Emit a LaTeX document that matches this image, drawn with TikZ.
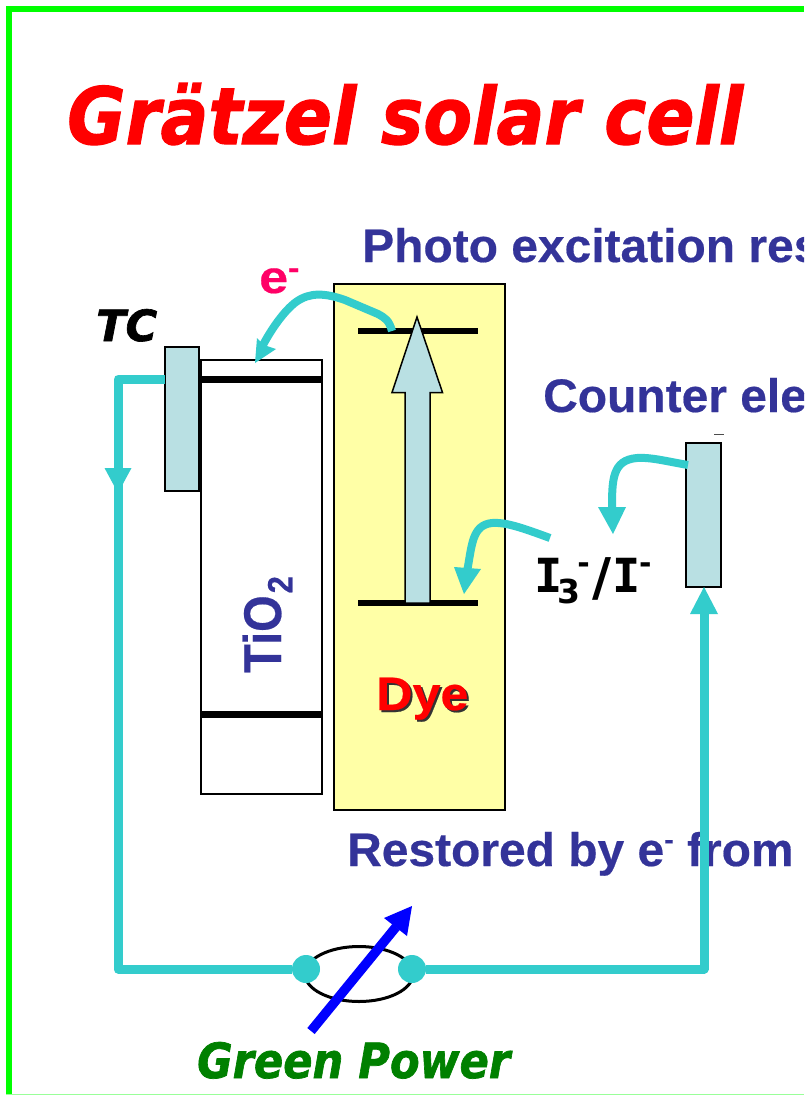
\documentclass[tikz,border=0pt]{standalone}
\usepackage{fontspec}
\setmainfont{DejaVu Sans}
\newfontfamily\heavyf{DejaVu Sans}[BoldItalicFeatures={FakeBold=1.5}]
\newfontfamily\arialf{Liberation Sans}[BoldFeatures={FakeBold=0.4}]
\newfontfamily\monof{DejaVu Sans Mono}
\definecolor{wire}{HTML}{33CCCC}
\definecolor{pale}{HTML}{B9E0E3}
\definecolor{dyey}{HTML}{FFFFA6}
\definecolor{navy}{HTML}{333399}
\definecolor{pinkish}{HTML}{FF0066}
\definecolor{framegreen}{HTML}{00FF00}
\definecolor{powergreen}{HTML}{008000}
\newcommand{\fsz}[1]{\fontsize{#1}{#1}\selectfont}
\newcommand{\wider}[1]{\scalebox{1.02}[1]{#1}}
\tikzset{
  x=1pt,y=-1pt,
  box/.style={draw=black,line width=2pt,inner sep=0pt,outer sep=0pt,anchor=north west},
  level/.style={line width=6.5pt,black},
  wireline/.style={line width=9pt,wire,line join=round},
  curve/.style={line width=8pt,wire},
  tiphead/.style={fill=wire,draw=none},
  blue label/.style={inner sep=0pt,anchor=base west,text=navy,font=\arialf\bfseries\fsz{47}},
  oblabel/.style={inner sep=0pt,anchor=base west,font=\heavyf\bfseries\itshape},
  dot/.style={circle,fill=wire,minimum size=28pt,inner sep=0pt,draw=none}
}
\begin{document}
\begin{tikzpicture}
\useasboundingbox (0,0) rectangle (804,1095);
\clip (0,0) rectangle (804,1095);
\fill[white] (0,0) rectangle (804,1095);
% frame
\fill[framegreen] (6,6) rectangle (804,12);
\fill[framegreen] (6,6) rectangle (12,1095);
\fill[framegreen!40] (6,1094) rectangle (804,1095);
% title
\node[oblabel,text=red] (title) at (67,144) {\resizebox{676pt}{61pt}{\fsz{84}Grätzel solar cell}};
% boxes
\node[box,fill=dyey,minimum width=171pt,minimum height=526pt] (dye) at (334,284) {};
\node[box,fill=white,minimum width=121pt,minimum height=434pt] (tio) at (201,360) {};
\node[box,fill=pale,minimum width=34pt,minimum height=144pt] (tc) at (165,347) {};
\node[box,fill=pale,minimum width=35pt,minimum height=144pt] (ce) at (686,443) {};
% levels
\coordinate (dtl) at (358,331); \coordinate (dtr) at (478,331);
\coordinate (dbl) at (358,603); \coordinate (dbr) at (478,603);
\coordinate (ttl) at (201,379.5); \coordinate (ttr) at (322,379.5);
\coordinate (tbl) at (201,714.5); \coordinate (tbr) at (322,714.5);
\draw[level] (dtl) -- (dtr);
\draw[level] (dbl) -- (dbr);
\draw[level] (ttl) -- (ttr);
\draw[level] (tbl) -- (tbr);
% excitation arrow
\draw[black,line width=1.5pt,fill=pale,line join=miter]
  (405,603) -- (405,392.5) -- (392,392.5) -- (417,317) -- (442.5,392.5) -- (430,392.5) -- (430,603) -- cycle;
% labels
\node[blue label] (photo) at (362,262) {\wider{Photo excitation res}};
\node[blue label] (counter) at (543,412) {\wider{Counter ele}};
\node[blue label] (restored) at (347,866) {\wider{Restored by e\raisebox{17pt}{\fsz{28}-} from e}};
\node[oblabel,text=black,font=\heavyf\bfseries\itshape\fsz{46}] (tclabel) at (96,341) {\resizebox{61pt}{!}{TC}};
\node[inner sep=0pt,anchor=base west,text=pinkish,font=\arialf\bfseries\fsz{46}] (elabel) at (259,293) {\scalebox{1.13}[1]{e\raisebox{15pt}{\fsz{30}-}}};
\node[inner sep=0pt,anchor=base west,rotate=90,text=navy,font=\arialf\bfseries\fsz{47}] (tilabel) at (281,673) {\scalebox{1}[1.13]{TiO\hspace{2pt}\raisebox{-10pt}{\fsz{31}2}}};
\node[inner sep=0pt,anchor=base west,text=black!80,font=\arialf\bfseries\fsz{47}] (dyeshadow) at (378,712) {\scalebox{1.07}[1]{Dye}};
\node[inner sep=0pt,anchor=base west,text=red,font=\arialf\bfseries\fsz{47}] (dyelabel) at (376,710) {\scalebox{1.07}[1]{Dye}};
\node[oblabel,text=powergreen] (gp) at (197,1078) {\resizebox{313pt}{36pt}{\fsz{47}Green Power}};
\node[inner sep=0pt,anchor=base west,font=\bfseries\fsz{47}] (redox) at (534,592)
 {\monof\bfseries I\hspace{-5pt}\raisebox{-11pt}{\fsz{33}\rmfamily\bfseries 3}\hspace{-3pt}\raisebox{19pt}{\fsz{30}\rmfamily\bfseries -}\hspace{3pt}\raisebox{-3pt}{\fsz{52}\rmfamily\bfseries /}\hspace{1pt}I\hspace{-2pt}\raisebox{19pt}{\fsz{30}\rmfamily\bfseries -}};
% meter
\coordinate (mc) at (359,974);
\draw[black,line width=3pt] (mc) ellipse [x radius=54,y radius=27.5];
% wires
\coordinate (w1) at (118,379); \coordinate (w2) at (118,969); \coordinate (w3) at (704,969);
\node[dot] (dl) at (306,969) {};
\node[dot] (dr) at (412,969) {};
\draw[wireline] (tc.west |- w1) -- (w1) -- (w2) -- (dl);
\draw[wireline] (dr) -- (w3) -- (704,612);
\fill[tiphead] (104.5,468) -- (131.5,468) -- (118,493) -- cycle;
\fill[tiphead] (690,614) -- (718,614) -- (704,587) -- cycle;
% curved arrows
\draw[curve] (392,331) .. controls (389,320) and (385,318) .. (378,314) -- (345,300) .. controls (325,293) and (310,292) .. (296,302) .. controls (285,310) and (272,328) .. (263,345);
\fill[tiphead] (255,363) -- (257,338) -- (264,345) -- (276,349) -- cycle;
\draw[curve] (550,538) .. controls (520,527) and (505,522) .. (492,523) .. controls (472,525) and (472,545) .. (467,572);
\fill[tiphead] (464,594) -- (454,567) -- (481,569) -- cycle;
\draw[curve] (688,465) .. controls (665,461) and (650,457) .. (637,458) .. controls (612,460) and (612,480) .. (612,510);
\fill[tiphead] (613,534) -- (598,507) -- (626,507) -- cycle;
% power arrow
\coordinate (pa) at (311,1031); \coordinate (pb) at (396,927);
\draw[blue,line width=9.5pt] (pa) -- (pb);
\fill[blue] (412,906) -- (384,918) -- (407,936) -- cycle;
% small mark
\draw[black!70,line width=.7pt] (714,434.5) -- (724,434.5);
\end{tikzpicture}
\end{document}
